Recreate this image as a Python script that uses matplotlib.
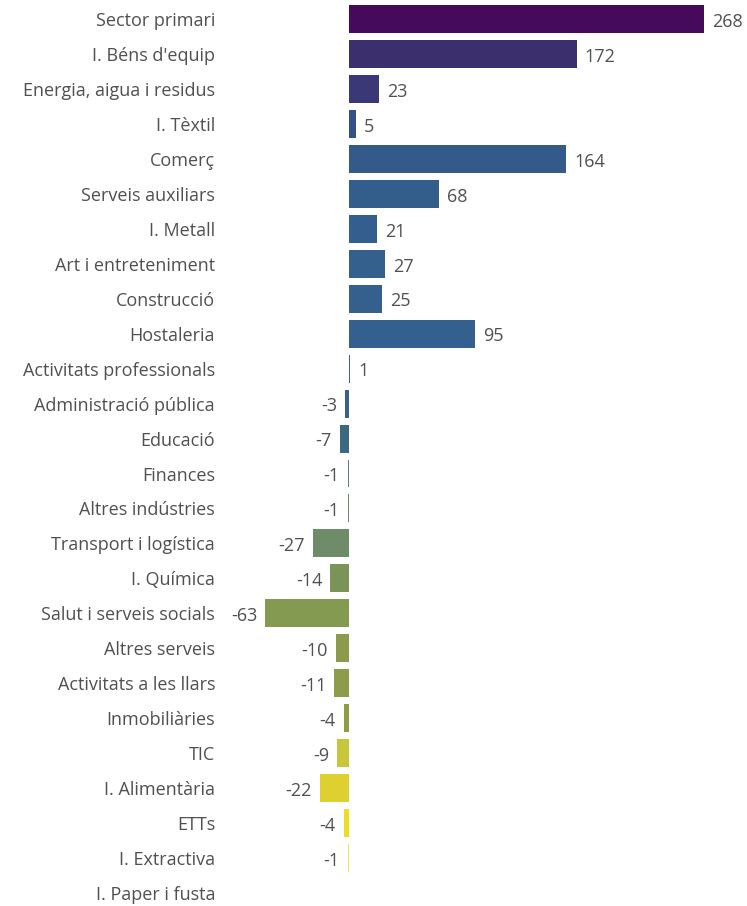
import matplotlib
matplotlib.use("Agg")
import matplotlib.pyplot as plt

sectors = [
    "Sector primari", "I. Béns d'equip", "Energia, aigua i residus", "I. Tèxtil",
    "Comerç", "Serveis auxiliars", "I. Metall", "Art i entreteniment",
    "Construcció", "Hostaleria", "Activitats professionals", "Administració pública",
    "Educació", "Finances", "Altres indústries", "Transport i logística",
    "I. Química", "Salut i serveis socials", "Altres serveis", "Activitats a les llars",
    "Inmobiliàries", "TIC", "I. Alimentària", "ETTs", "I. Extractiva", "I. Paper i fusta",
]
values = [268, 172, 23, 5, 164, 68, 21, 27, 25, 95, 1, -3, -7, -1, -1,
          -27, -14, -63, -10, -11, -4, -9, -22, -4, -1, None]

colors = [
    "#450a5c", "#3c2f6e", "#3b3877", "#33508b", "#335a89", "#335d8b", "#335f8e",
    "#34608e", "#355f8d", "#33608e", "#3c6388", "#3a5f88", "#3b6a80", "#5f7d84",
    "#72866c", "#6e8c68", "#7a9458", "#849a50", "#8b9a4c", "#8c9c4a", "#8e9e48",
    "#c8c63a", "#ddd030", "#eedd25", "#f0e060", "#f0e060",
]

plt.rcParams["font.family"] = ["Open Sans", "DejaVu Sans"]
txt = "#505050"
fs = 13

fig = plt.figure(figsize=(7.47, 9.06), dpi=100)
ax = fig.add_axes([0.301, 0, 0.699, 1])

ys = list(range(len(sectors)))
for y, v, c in zip(ys, values, colors):
    if v is None:
        continue
    ax.barh(y, v, height=0.8, color=c)
    if v >= 0:
        ax.text(v + 6, y + 0.08, str(v), va="center", ha="left", fontsize=fs, color=txt)
    else:
        ax.text(v - 6, y + 0.08, str(v), va="center", ha="right", fontsize=fs, color=txt)

ax.set_xlim(-93.6, 300.4)
ax.set_ylim(25.37, -0.543)
ax.set_yticks(ys)
ax.set_yticklabels(sectors, fontsize=fs, color=txt)
ax.tick_params(axis="y", length=0, pad=7)
ax.set_xticks([])
for s in ax.spines.values():
    s.set_visible(False)

fig.savefig("out.png", dpi=100)
